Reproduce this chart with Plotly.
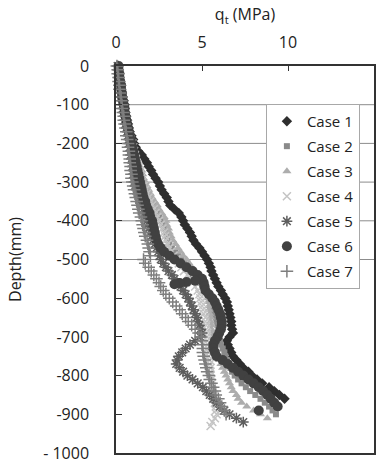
import plotly.graph_objects as go

# Cone tip resistance profiles, q_t (MPa) against depth (mm), sampled every 10 mm
DEPTH_MM = [
    0, -10, -20, -30, -40, -50, -60, -70, -80, -90,
    -100, -110, -120, -130, -140, -150, -160, -170, -180, -190,
    -200, -210, -220, -230, -240, -250, -260, -270, -280, -290,
    -300, -310, -320, -330, -340, -350, -360, -370, -380, -390,
    -400, -410, -420, -430, -440, -450, -460, -470, -480, -490,
    -500, -510, -520, -530, -540, -550, -560, -570, -580, -590,
    -600, -610, -620, -630, -640, -650, -660, -670, -680, -690,
    -700, -710, -720, -730, -740, -750, -760, -770, -780, -790,
    -800, -810, -820, -830, -840, -850, -860, -870, -880, -890,
    -900, -910, -920, -930,
]

CASE1_QT = [
    0.1, 0.15, 0.2, 0.2, 0.25, 0.3, 0.3, 0.35, 0.4, 0.45,
    0.5, 0.5, 0.55, 0.6, 0.65, 0.7, 0.75, 0.8, 0.9, 1.0,
    1.05, 1.15, 1.3, 1.5, 1.65, 1.8, 1.9, 2.05, 2.15, 2.3,
    2.45, 2.55, 2.65, 2.8, 2.95, 3.05, 3.15, 3.4, 3.65, 3.8,
    3.9, 4.0, 4.15, 4.3, 4.4, 4.5, 4.65, 4.85, 5.0, 5.15,
    5.3, 5.4, 5.5, 5.55, 5.65, 5.75, 5.85, 5.95, 6.1, 6.2,
    6.35, 6.45, 6.5, 6.55, 6.6, 6.65, 6.7, 6.7, 6.75, 6.8,
    6.6, 6.45, 6.5, 6.6, 6.7, 6.8, 7.0, 7.2, 7.4, 7.7,
    7.9, 8.2, 8.5, 8.9, 9.2, 9.5, 9.8,
]

CASE2_QT = [
    0.1, 0.15, 0.15, 0.2, 0.25, 0.25, 0.3, 0.3, 0.35, 0.4,
    0.4, 0.45, 0.5, 0.55, 0.6, 0.65, 0.7, 0.75, 0.8, 0.85,
    0.9, 0.95, 1.0, 1.05, 1.1, 1.2, 1.25, 1.35, 1.4, 1.5,
    1.55, 1.65, 1.75, 1.85, 1.95, 2.05, 2.15, 2.3, 2.4, 2.5,
    2.6, 2.7, 2.8, 2.9, 2.95, 3.0, 3.1, 3.25, 3.45, 3.6,
    3.8, 3.95, 4.1, 4.3, 4.45, 4.6, 4.8, 5.0, 5.2, 5.35,
    5.5, 5.55, 5.6, 5.65, 5.7, 5.8, 5.85, 5.9, 5.95, 6.0,
    6.0, 6.05, 6.1, 6.2, 6.3, 6.35, 6.45, 6.55, 6.65, 6.75,
    6.9, 7.1, 7.3, 7.55, 7.8, 8.1, 8.4, 8.65, 8.9, 9.1,
    9.3,
]

CASE3_QT = [
    0.15, 0.15, 0.2, 0.2, 0.25, 0.3, 0.3, 0.35, 0.4, 0.4,
    0.45, 0.5, 0.55, 0.6, 0.65, 0.7, 0.75, 0.8, 0.85, 0.9,
    0.95, 1.0, 1.1, 1.15, 1.25, 1.3, 1.4, 1.5, 1.55, 1.6,
    1.7, 1.8, 1.9, 2.0, 2.1, 2.25, 2.4, 2.5, 2.65, 2.8,
    2.9, 2.95, 3.05, 3.1, 3.2, 3.3, 3.45, 3.6, 3.75, 3.9,
    4.1, 4.25, 4.4, 4.55, 4.7, 4.9, 5.0, 5.1, 5.2, 5.25,
    5.3, 5.35, 5.4, 5.4, 5.45, 5.5, 5.5, 5.55, 5.55, 5.6,
    5.6, 5.65, 5.7, 5.75, 5.8, 5.9, 6.0, 6.1, 6.2, 6.3,
    6.4, 6.5, 6.6, 6.7, 6.8, 7.0, 7.1, 7.3, 7.6, 8.0,
    8.4, 8.8,
]

CASE4_QT = [
    0.1, 0.1, 0.15, 0.2, 0.2, 0.25, 0.3, 0.3, 0.35, 0.4,
    0.45, 0.45, 0.5, 0.55, 0.6, 0.65, 0.7, 0.75, 0.8, 0.85,
    0.95, 1.0, 1.05, 1.1, 1.15, 1.2, 1.3, 1.35, 1.4, 1.45,
    1.5, 1.6, 1.7, 1.8, 1.9, 2.0, 2.1, 2.2, 2.3, 2.4,
    2.5, 2.6, 2.7, 2.8, 2.85, 2.9, 3.0, 3.1, 3.2, 3.35,
    3.5, 3.65, 3.8, 3.95, 4.15, 4.3, 4.45, 4.6, 4.75, 4.85,
    4.9, 4.95, 5.0, 5.05, 5.1, 5.2, 5.2, 5.25, 5.25, 5.3,
    5.3, 5.3, 5.35, 5.35, 5.4, 5.4, 5.45, 5.45, 5.5, 5.5,
    5.5, 5.55, 5.6, 5.6, 5.65, 5.7, 5.7, 5.75, 5.8, 5.8,
    5.85, 5.75, 5.6, 5.5,
]

CASE5_QT = [
    0.1, 0.1, 0.15, 0.15, 0.2, 0.25, 0.25, 0.3, 0.3, 0.35,
    0.4, 0.4, 0.45, 0.5, 0.5, 0.55, 0.6, 0.65, 0.7, 0.75,
    0.75, 0.8, 0.85, 0.85, 0.9, 0.95, 0.95, 1.0, 1.0, 1.05,
    1.05, 1.1, 1.2, 1.25, 1.35, 1.4, 1.5, 1.6, 1.65, 1.7,
    1.8, 1.85, 1.9, 2.0, 2.05, 2.15, 2.25, 2.35, 2.45, 2.55,
    2.6, 2.75, 2.9, 3.05, 3.25, 3.4, 3.55, 3.75, 3.9, 4.05,
    4.2, 4.3, 4.4, 4.5, 4.6, 4.7, 4.75, 4.85, 4.9, 5.0,
    4.9, 4.6, 4.3, 4.05, 3.85, 3.65, 3.55, 3.5, 3.7, 3.9,
    4.15, 4.45, 4.75, 5.05, 5.25, 5.45, 5.65, 5.85, 6.05, 6.3,
    6.6, 7.0, 7.4,
]

CASE6_QT = [
    0.15, 0.15, 0.2, 0.2, 0.25, 0.3, 0.3, 0.35, 0.35, 0.4,
    0.45, 0.5, 0.5, 0.55, 0.6, 0.65, 0.7, 0.75, 0.8, 0.85,
    0.9, 0.95, 1.0, 1.05, 1.1, 1.15, 1.2, 1.25, 1.3, 1.35,
    1.4, 1.45, 1.5, 1.55, 1.6, 1.7, 1.75, 1.85, 1.95, 2.0,
    2.1, 2.15, 2.2, 2.25, 2.3, 2.35, 2.45, 2.6, 2.8, 3.1,
    3.4, 3.75, 4.1, 4.45, 4.75, 5.0, 5.1, 5.15, 5.2, 5.4,
    5.6, 5.75, 5.85, 5.95, 6.05, 6.1, 6.15, 6.15, 6.1, 6.0,
    5.9, 5.75, 5.65, 5.65, 5.75, 5.85, 6.2, 6.5, 6.8, 7.1,
    7.4, 7.7, 8.0, 8.3, 8.55, 8.8, 9.0, 9.2, 9.4, 8.3,
]
# short soft-layer excursion recorded around 560 mm in case 6
CASE6_DIP_DEPTH_MM = [-555, -558, -561, -564]
CASE6_DIP_QT = [4.6, 4.1, 3.7, 3.4]

CASE7_QT = [
    0.05, 0.1, 0.1, 0.15, 0.15, 0.2, 0.2, 0.25, 0.3, 0.3,
    0.35, 0.35, 0.4, 0.45, 0.45, 0.5, 0.55, 0.6, 0.6, 0.65,
    0.7, 0.7, 0.75, 0.75, 0.8, 0.8, 0.85, 0.85, 0.9, 0.9,
    0.95, 1.0, 1.05, 1.1, 1.15, 1.2, 1.25, 1.3, 1.35, 1.45,
    1.5, 1.55, 1.6, 1.65, 1.7, 1.8, 1.85, 1.9, 1.95, 2.0,
    1.6, 1.7, 1.9, 2.05, 2.2, 2.35, 2.5, 2.6, 2.75, 2.9,
    3.1, 3.3, 3.5, 3.7, 3.85, 4.05, 4.2, 4.4, 4.6, 4.8,
    4.95, 5.0, 5.0, 5.05, 5.05, 5.1, 5.15, 5.2, 5.25, 5.3,
    5.4, 5.45, 5.55, 5.65, 5.75, 5.8, 5.95, 6.05, 6.15, 6.3,
    6.4,
]

CASE_NAMES = ["Case 1", "Case 2", "Case 3", "Case 4", "Case 5", "Case 6", "Case 7"]

X_TICKS = [0, 5, 10, 15]
Y_TICKS = [0, -100, -200, -300, -400, -500, -600, -700, -800, -900, -1000]
Y_TICK_TEXT = ["0", "-100", "-200", "-300", "-400", "-500", "-600", "-700",
               "-800", "-900", "- 1000"]
GRID_DEPTHS = [-100, -200, -300, -400, -500]

FONT = "Open Sans, Noto Sans, sans-serif"

case6_depth = DEPTH_MM[:len(CASE6_QT)] + CASE6_DIP_DEPTH_MM
case6_qt = CASE6_QT + CASE6_DIP_QT

series = [
    (CASE1_QT, DEPTH_MM[:len(CASE1_QT)], dict(symbol="diamond", size=8, color="#2e2e2e")),
    (CASE2_QT, DEPTH_MM[:len(CASE2_QT)], dict(symbol="square", size=6, color="#8a8a8a")),
    (CASE3_QT, DEPTH_MM[:len(CASE3_QT)], dict(symbol="triangle-up", size=8, color="#adadad")),
    (CASE4_QT, DEPTH_MM[:len(CASE4_QT)], dict(symbol="x-thin-open", size=8, color="#c4c4c4",
                                              line=dict(width=1.5, color="#c4c4c4"))),
    (CASE5_QT, DEPTH_MM[:len(CASE5_QT)], dict(symbol="asterisk-open", size=9, color="#5e5e5e",
                                              line=dict(width=1.5, color="#5e5e5e"))),
    (case6_qt, case6_depth, dict(symbol="circle", size=10, color="#414141")),
    (CASE7_QT, DEPTH_MM[:len(CASE7_QT)], dict(symbol="cross-thin-open", size=9, color="#7e7e7e",
                                              line=dict(width=1.5, color="#7e7e7e"))),
]

fig = go.Figure()
for name, (qt, depth, marker) in zip(CASE_NAMES, series):
    fig.add_trace(go.Scatter(
        x=qt, y=depth, mode="markers", name=name, legendgroup=name,
        marker=marker, cliponaxis=False,
    ))

for d in GRID_DEPTHS:
    fig.add_shape(type="line", xref="x", yref="y", x0=0, x1=15, y0=d, y1=d,
                  line=dict(color="#8c8c8c", width=1), layer="below")

fig.update_layout(
    width=382, height=466,
    margin=dict(l=116, r=8, t=66, b=13),
    paper_bgcolor="white", plot_bgcolor="white",
    font=dict(family=FONT, size=16, color="#222222"),
    showlegend=True,
    legend=dict(
        x=0.581, y=0.902, xanchor="left", yanchor="top",
        bgcolor="white", bordercolor="#a8a8a8", borderwidth=1,
        font=dict(family=FONT, size=15, color="#222222"),
        tracegroupgap=2.5, itemwidth=30,
    ),
    xaxis=dict(
        side="top", range=[0, 15], tickvals=X_TICKS, ticks="inside", ticklen=5,
        tickcolor="#333333", showline=True, linecolor="#333333", linewidth=1.5,
        mirror=True, showgrid=False, zeroline=False, ticklabelstandoff=10,
        automargin=False,
        title=dict(text="q<sub>t</sub> (MPa)", standoff=6,
                   font=dict(family=FONT, size=16)),
    ),
    yaxis=dict(
        range=[-1000, 0], tickvals=Y_TICKS, ticktext=Y_TICK_TEXT, ticks="inside",
        ticklen=6, tickcolor="#333333", showline=True, linecolor="#333333",
        linewidth=1.5, mirror=True, showgrid=False, zeroline=False,
        ticklabelstandoff=22, automargin=False,
        title=dict(text="Depth(mm)", standoff=18, font=dict(family=FONT, size=16)),
    ),
)

fig.write_html("out.html")
